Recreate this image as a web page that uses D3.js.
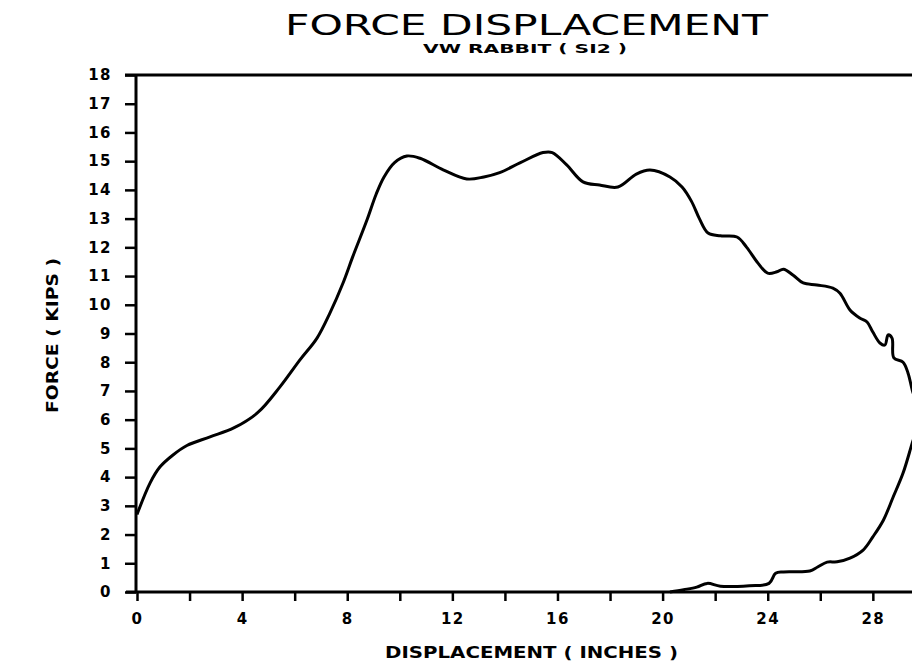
<!DOCTYPE html>
<html>
<head>
<meta charset="utf-8">
<script src="https://cdn.jsdelivr.net/npm/d3@7"></script>
<style>
  html, body { margin: 0; padding: 0; background: #fff; }
  svg { display: block; }
  .tick text { font-family: "DejaVu Sans", sans-serif; font-weight: bold; font-size: 15px; letter-spacing: 1.5px; fill: #000; }
  .tick line { stroke: #000; stroke-width: 2.5; }
</style>
</head>
<body>
<svg id="chart" width="912" height="664"></svg>
<script>
// Loading branch: displacement (in) and force (kips)
const loadDisp = [0, 0.5, 0.87, 1.37, 1.9, 2.78, 3.7, 4.6, 5.44, 6.2, 6.85, 7.34, 7.84, 8.2, 8.75, 9.1, 9.4, 9.8, 10.27, 10.77, 11.65, 12.55, 13.2, 13.8, 14.57, 15.45, 15.8, 16.35, 16.97, 17.6, 18.3, 19.0, 19.52, 20.28, 20.74, 21.1, 21.4, 21.73, 22.2, 22.83, 23.2, 23.63, 24.0, 24.35, 24.6, 24.97, 25.35, 25.87, 26.48, 26.75, 27.13, 27.5, 27.78, 28.0, 28.27, 28.46, 28.58, 28.73, 28.8, 29.15, 29.34, 29.5, 29.8];
const loadForce = [2.7, 3.8, 4.35, 4.77, 5.1, 5.4, 5.72, 6.25, 7.14, 8.08, 8.84, 9.71, 10.76, 11.65, 12.95, 13.85, 14.45, 14.95, 15.18, 15.1, 14.7, 14.38, 14.45, 14.6, 14.94, 15.3, 15.3, 14.87, 14.28, 14.17, 14.1, 14.55, 14.69, 14.45, 14.1, 13.6, 13.0, 12.5, 12.4, 12.36, 12.0, 11.45, 11.1, 11.15, 11.24, 11.03, 10.76, 10.69, 10.58, 10.4, 9.82, 9.54, 9.4, 9.05, 8.67, 8.6, 8.95, 8.84, 8.15, 8.0, 7.62, 7.03, 6.1];

// Unloading branch, traced back from the turning point
const unloadDisp = [29.5, 29.15, 28.77, 28.4, 28.0, 27.63, 27.13, 26.64, 26.26, 25.9, 25.6, 24.6, 24.3, 24.05, 23.3, 22.2, 21.7, 21.3, 20.8, 20.28];
const unloadForce = [5.19, 4.14, 3.3, 2.5, 1.92, 1.46, 1.18, 1.05, 1.04, 0.87, 0.73, 0.7, 0.65, 0.3, 0.22, 0.2, 0.3, 0.17, 0.08, 0];

const xTicks = [0, 2, 4, 6, 8, 10, 12, 14, 16, 18, 20, 22, 24, 26, 28, 30];
const xTickLabels = ["0", "", "4", "", "8", "", "12", "", "16", "", "20", "", "24", "", "28", ""];
const yTicks = d3.range(0, 19);

const titleText = "FORCE DISPLACEMENT";
const subtitleText = "VW RABBIT ( SI2 )";
const xLabelText = "DISPLACEMENT ( INCHES )";
const yLabelText = "FORCE ( KIPS )";

const svg = d3.select("#chart");

const x = d3.scaleLinear().domain([0, 30]).range([137, 925.4]);
const y = d3.scaleLinear().domain([0, 18]).range([592, 75]);

// Axes
const xAxis = d3.axisBottom(x)
  .tickValues(xTicks)
  .tickFormat((d, i) => xTickLabels[i])
  .tickSizeInner(9).tickSizeOuter(0).tickPadding(12);
const yAxis = d3.axisLeft(y)
  .tickValues(yTicks)
  .tickFormat(d3.format("d"))
  .tickSizeInner(11).tickSizeOuter(0).tickPadding(13);

const gx = svg.append("g").attr("transform", `translate(0,${y(0)})`).call(xAxis);
gx.select(".domain").remove();
const gy = svg.append("g").attr("transform", `translate(${x(0) - 1},0)`).call(yAxis);
gy.select(".domain").remove();

// Frame lines: x axis, y axis and top border
function frameLine(x1, y1, x2, y2) {
  svg.append("line")
    .attr("x1", x1).attr("y1", y1).attr("x2", x2).attr("y2", y2)
    .attr("stroke", "#000").attr("stroke-width", 3);
}
frameLine(x(0) - 11, y(0), x(30), y(0));
frameLine(x(0) - 1, y(18), x(0) - 1, y(0));
frameLine(x(0) - 12, y(18), x(30), y(18));

// Force–displacement curve (loading then unloading)
const pts = loadDisp.map((d, i) => [d, loadForce[i]])
  .concat(unloadDisp.map((d, i) => [d, unloadForce[i]]));
const line = d3.line()
  .x(d => x(d[0]))
  .y(d => y(d[1]))
  .curve(d3.curveCatmullRom.alpha(0.5));
svg.append("path")
  .datum(pts)
  .attr("d", line)
  .attr("fill", "none")
  .attr("stroke", "#000")
  .attr("stroke-width", 3)
  .attr("stroke-linejoin", "round");

// Titles and axis labels
svg.append("text")
  .attr("x", 285).attr("y", 35)
  .attr("textLength", 483).attr("lengthAdjust", "spacingAndGlyphs")
  .style("font-family", "'DejaVu Sans', sans-serif")
  .style("font-size", "29px")
  .text(titleText);

svg.append("text")
  .attr("x", 423).attr("y", 53)
  .attr("textLength", 204).attr("lengthAdjust", "spacingAndGlyphs")
  .style("font-family", "'DejaVu Sans', sans-serif")
  .style("font-weight", "bold")
  .style("font-size", "13px")
  .text(subtitleText);

svg.append("text")
  .attr("x", 385).attr("y", 658)
  .attr("textLength", 293).attr("lengthAdjust", "spacingAndGlyphs")
  .style("font-family", "'DejaVu Sans', sans-serif")
  .style("font-weight", "bold")
  .style("font-size", "15px")
  .text(xLabelText);

svg.append("text")
  .attr("transform", "translate(58,413) rotate(-90)")
  .attr("textLength", 155).attr("lengthAdjust", "spacingAndGlyphs")
  .style("font-family", "'DejaVu Sans', sans-serif")
  .style("font-weight", "bold")
  .style("font-size", "15px")
  .text(yLabelText);
</script>
</body>
</html>
